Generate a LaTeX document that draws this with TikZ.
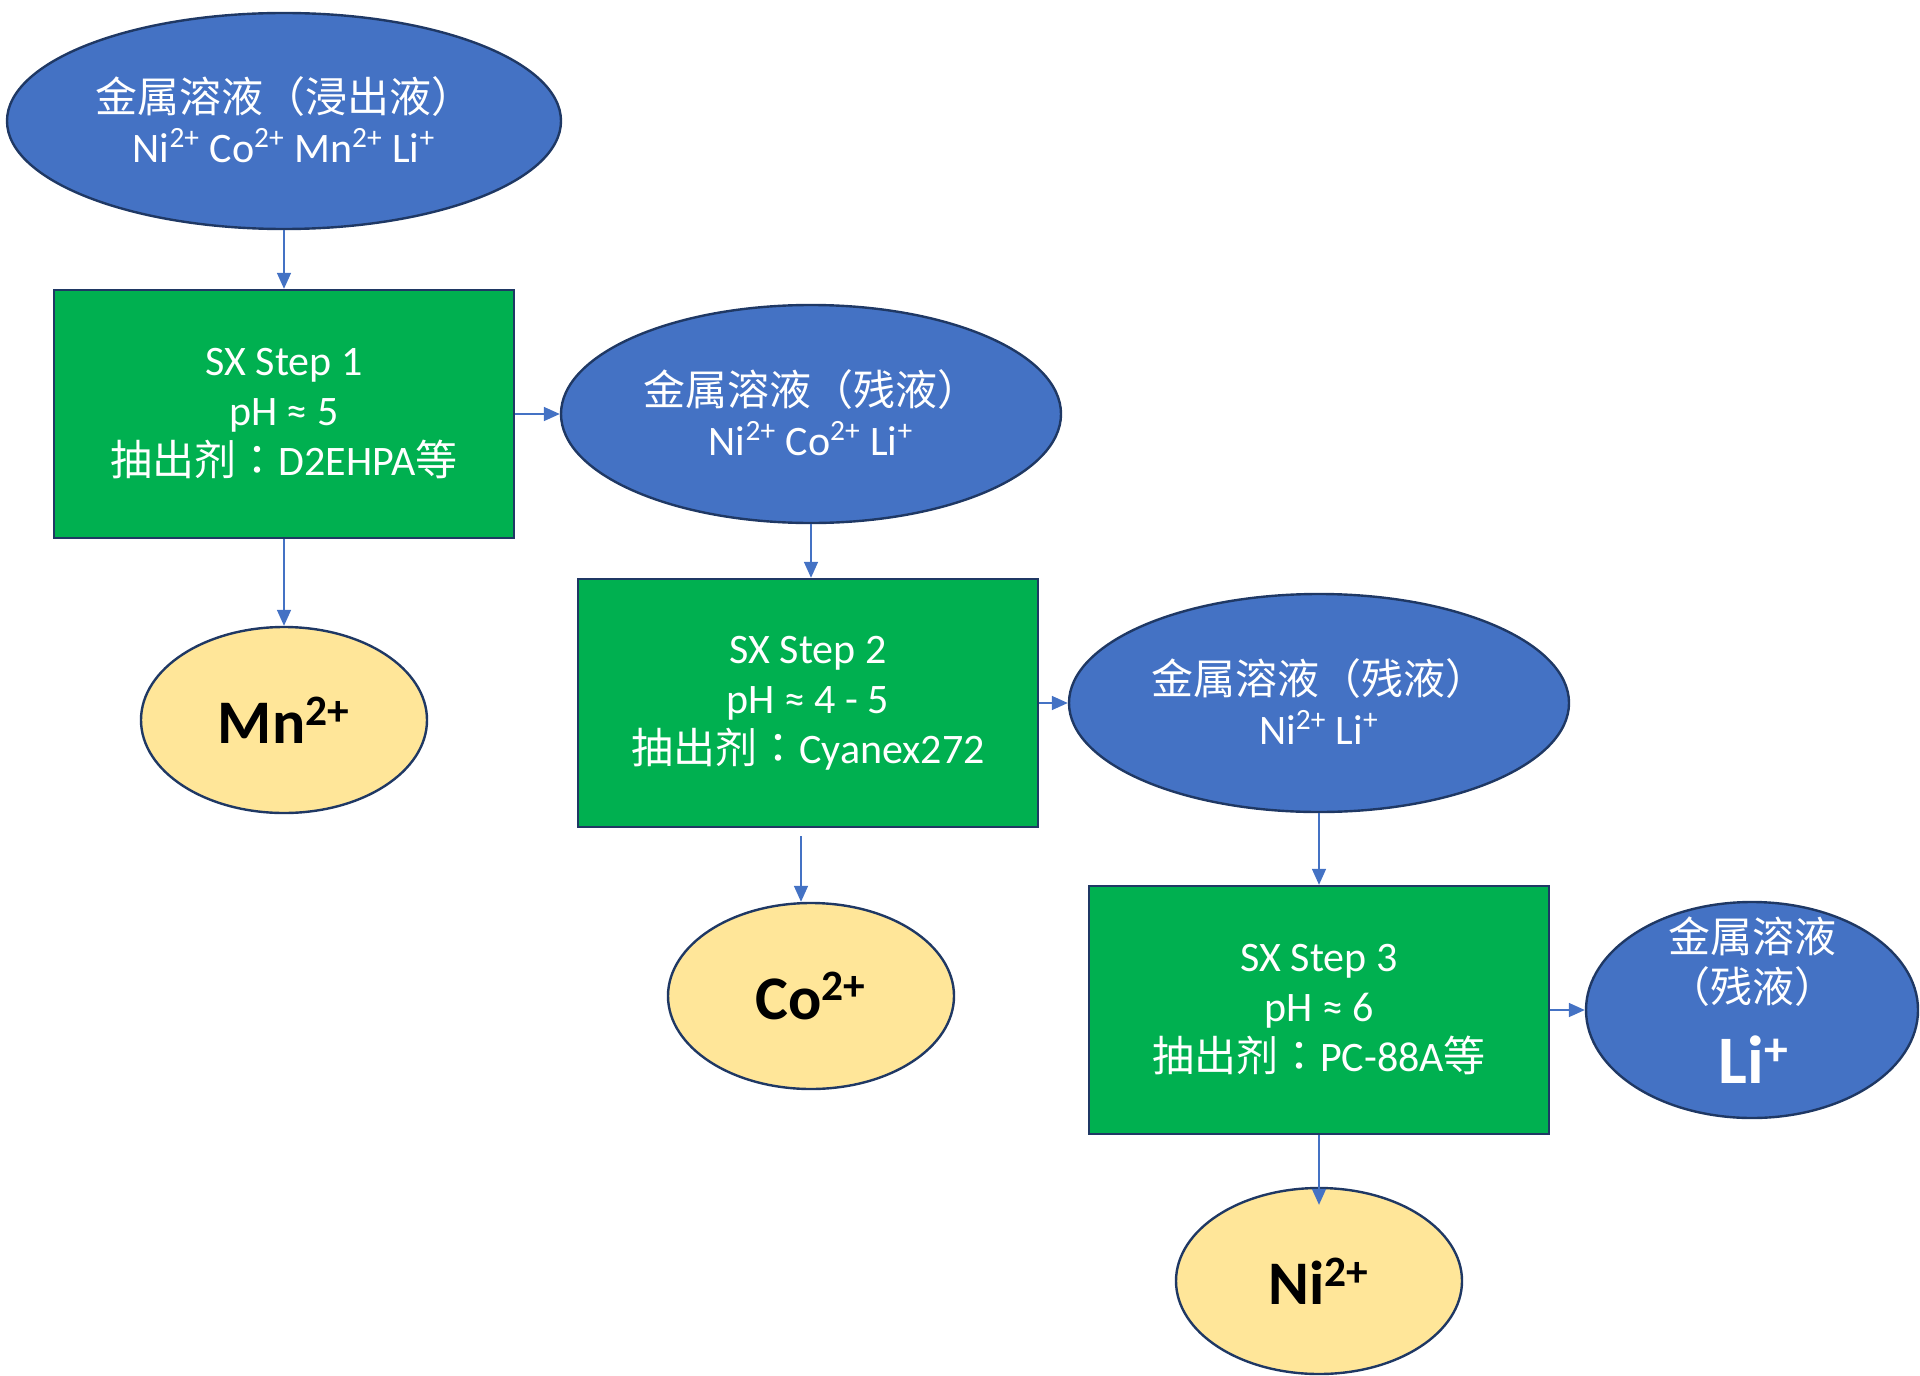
\documentclass[tikz,border=0pt]{standalone}
\usepackage{fontspec}
\setmainfont{Carlito}
\newfontfamily\cjk{Noto Sans CJK SC}
\newfontfamily\cjkjp{Noto Sans CJK JP}
\newcommand{\fwcolon}{{\cjkjp ：}}
\usetikzlibrary{shapes.geometric,arrows.meta}
\definecolor{eblue}{HTML}{4472C4}
\definecolor{edgec}{HTML}{1F3864}
\definecolor{sgreen}{HTML}{00B050}
\definecolor{syellow}{HTML}{FFE699}
\begin{document}
\begin{tikzpicture}[x=0.5pt,y=-0.5pt,
  blueell/.style={ellipse, fill=eblue, draw=edgec, line width=1.2pt, inner sep=0pt},
  yelell/.style={ellipse, fill=syellow, draw=edgec, line width=1.2pt, inner sep=0pt},
  stepbox/.style={rectangle, fill=sgreen, draw=edgec, line width=1.2pt, inner sep=0pt,
    minimum width=230pt, minimum height=124pt, text=white, align=center,
    font=\fontsize{21pt}{25pt}\selectfont},
  wtxt/.style={text=white, align=center, inner sep=0pt, font=\fontsize{21pt}{25pt}\selectfont},
  bigtxt/.style={text=black, inner sep=0pt, font=\fontsize{31pt}{36pt}\selectfont\bfseries},
  arr/.style={draw=eblue, line width=0.8pt, -{Triangle[length=8pt,width=7pt]}}
]
\useasboundingbox (0,0) rectangle (1920,1375);

% shapes
\node[blueell, minimum width=277pt, minimum height=108pt] (e1) at (284,121) {};
\node[wtxt] (e1t) at (284,120) {{\cjk 金属溶液（浸出液）}\\Ni\textsuperscript{2+} Co\textsuperscript{2+} Mn\textsuperscript{2+} Li\textsuperscript{+}};

\node[stepbox] (b1) at (284,414) {SX Step 1\\pH ≈ 5\\{\cjk 抽出剂}\fwcolon D2EHPA{\cjk 等}};

\node[blueell, minimum width=250pt, minimum height=109pt] (e2) at (811,414) {};
\node[wtxt] (e2t) at (811,413) {{\cjk 金属溶液（残液）}\\Ni\textsuperscript{2+} Co\textsuperscript{2+} Li\textsuperscript{+}};

\node[yelell, minimum width=143pt, minimum height=93pt] (mn) at (284,720) {};
\node[bigtxt] (mnt) at (284,720) {Mn\textsuperscript{2+}};

\node[stepbox] (b2) at (808,703) {SX Step 2\\pH ≈ 4 - 5\\{\cjk 抽出剂}\fwcolon Cyanex272};

\node[blueell, minimum width=250pt, minimum height=109pt] (e3) at (1319,703) {};
\node[wtxt] (e3t) at (1319,702) {{\cjk 金属溶液（残液）}\\Ni\textsuperscript{2+} Li\textsuperscript{+}};

\node[yelell, minimum width=143pt, minimum height=93pt] (co) at (811,996) {};
\node[bigtxt] (cot) at (811,996) {Co\textsuperscript{2+}};

\node[stepbox] (b3) at (1319,1010) {SX Step 3\\pH ≈ 6\\{\cjk 抽出剂}\fwcolon PC-88A{\cjk 等}};

\node[blueell, minimum width=166pt, minimum height=108pt] (li) at (1752,1010) {};
\node[wtxt] (lit) at (1752,962) {{\cjk 金属溶液}\\{\cjk （残液）}};
\node[bigtxt, text=white, font=\fontsize{34pt}{38pt}\selectfont\bfseries] (lib) at (1754,1060) {Li\textsuperscript{+}};

\node[yelell, minimum width=143pt, minimum height=93pt] (ni) at (1319,1281) {};
\node[bigtxt] (nit) at (1319,1281) {Ni\textsuperscript{2+}};

% connectors
\draw[arr] (e1.south) -- (b1.north);
\draw[arr] (b1.east) -- (e2.west);
\draw[arr] (b1.south) -- (mn.north);
\draw[arr] (e2.south) -- (e2.south |- b2.north);
\draw[arr] (b2.east) -- (e3.west);
\coordinate (costart) at (801,836);
\draw[arr] (costart) -- (costart |- co.north);
\draw[arr] (e3.south) -- (b3.north);
\draw[arr] (b3.east) -- (li.west);
\draw[arr] (b3.south) -- ([yshift=-9pt]ni.north);
\end{tikzpicture}
\end{document}
